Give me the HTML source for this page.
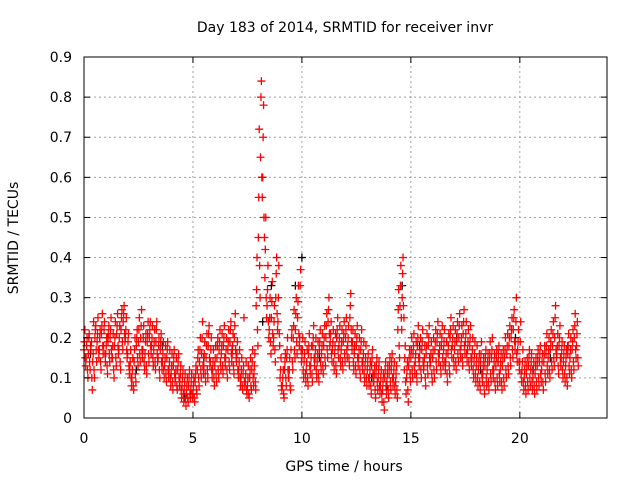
<!DOCTYPE html>
<html><head><meta charset="utf-8"><style>
body{margin:0;background:#fff}
svg{display:block;font-family:"DejaVu Sans","Liberation Sans",sans-serif}
</style></head><body>
<svg id="chart" width="640" height="480">
<rect width="640" height="480" fill="#fff"/>
<g id="grid"></g>
<g id="marks"></g>
<rect x="84" y="57" width="523" height="361" fill="none" stroke="#000" stroke-width="1"/>
<g id="ticks"></g>
<text x="345" y="32" text-anchor="middle" font-size="14">Day 183 of 2014, SRMTID for receiver invr</text>
<text x="344" y="471" text-anchor="middle" font-size="14">GPS time / hours</text>
<text transform="translate(18,238) rotate(-90)" text-anchor="middle" font-size="14">SRMTID / TECUs</text>
</svg>
<script>
const xTicks=[0,5,10,15,20];
const yTicks=[0,0.1,0.2,0.3,0.4,0.5,0.6,0.7,0.8,0.9];
const yTickLabels=["0","0.1","0.2","0.3","0.4","0.5","0.6","0.7","0.8","0.9"];
const timeStep=0.1;
const redMid=[.17,.15,.16,.18,.14,.2,.19,.17,.21,.18,
.16,.19,.2,.15,.18,.21,.17,.22,.24,.2,
.16,.12,.1,.14,.18,.19,.2,.17,.16,.19,
.2,.18,.17,.19,.15,.17,.14,.13,.15,.12,
.11,.13,.1,.12,.09,.08,.07,.06,.08,.07,
.06,.09,.12,.14,.16,.13,.15,.18,.14,.12,
.13,.15,.17,.16,.18,.15,.17,.19,.16,.2,
.14,.12,.1,.11,.09,.08,.1,.12,.11,.28,
.45,.65,.6,.35,.28,.22,.25,.2,.3,.24,
.1,.08,.12,.15,.1,.17,.2,.22,.25,.2,
.15,.14,.12,.16,.13,.18,.15,.14,.17,.16,
.18,.2,.24,.19,.17,.16,.2,.18,.17,.19,
.2,.18,.25,.17,.16,.18,.15,.17,.14,.13,
.12,.1,.13,.09,.11,.1,.08,.07,.1,.09,
.11,.12,.1,.09,.22,.28,.3,.12,.1,.13,
.15,.16,.14,.18,.15,.17,.13,.16,.18,.14,
.15,.17,.19,.16,.18,.17,.14,.16,.2,.18,
.17,.19,.2,.18,.21,.19,.17,.18,.15,.14,
.13,.12,.14,.11,.13,.12,.14,.15,.12,.13,
.14,.12,.13,.15,.16,.18,.2,.22,.19,.17,
.14,.12,.1,.11,.13,.12,.1,.11,.13,.14,
.12,.14,.16,.15,.17,.18,.2,.16,.18,.15,
.14,.13,.16,.15,.17,.2,.18];
const redHigh=[.22,.2,.21,.19,.24,.23,.25,.22,.26,.24,
.2,.23,.25,.21,.24,.26,.23,.27,.28,.25,
.21,.17,.15,.2,.22,.25,.27,.23,.21,.24,
.24,.23,.22,.24,.2,.21,.19,.18,.19,.17,
.16,.17,.15,.16,.13,.12,.11,.1,.12,.11,
.1,.13,.17,.2,.24,.19,.21,.23,.2,.17,
.18,.2,.22,.21,.23,.2,.22,.24,.21,.26,
.19,.17,.15,.25,.14,.13,.15,.17,.16,.4,
.72,.84,.78,.5,.38,.3,.34,.28,.4,.38,
.15,.12,.16,.2,.15,.22,.27,.3,.33,.37,
.2,.19,.17,.21,.18,.23,.2,.19,.22,.21,
.23,.26,.3,.24,.22,.21,.25,.23,.22,.24,
.25,.23,.31,.22,.21,.23,.2,.22,.19,.18,
.16,.14,.17,.13,.15,.14,.12,.11,.14,.13,
.15,.16,.14,.13,.32,.38,.4,.18,.14,.17,
.2,.21,.19,.23,.2,.22,.18,.21,.23,.19,
.2,.22,.24,.21,.23,.22,.19,.21,.25,.23,
.22,.24,.26,.23,.27,.24,.22,.23,.2,.19,
.18,.16,.19,.15,.17,.16,.19,.2,.16,.17,
.18,.16,.17,.2,.21,.23,.25,.27,.3,.22,
.24,.17,.14,.15,.17,.16,.14,.15,.17,.18,
.16,.18,.21,.2,.22,.24,.28,.21,.23,.19,
.18,.17,.21,.2,.22,.26,.24];
const redLow=[.13,.1,.12,.07,.1,.14,.15,.12,.16,.14,
.11,.14,.15,.1,.13,.16,.12,.17,.19,.15,
.11,.08,.07,.09,.13,.14,.15,.12,.11,.14,
.16,.13,.12,.14,.1,.12,.1,.09,.1,.08,
.07,.09,.07,.08,.05,.04,.03,.04,.05,.05,
.04,.06,.08,.1,.11,.09,.1,.13,.1,.08,
.09,.1,.12,.11,.13,.1,.12,.14,.11,.15,
.1,.08,.07,.08,.06,.05,.07,.08,.07,.18,
.3,.55,.45,.25,.2,.16,.18,.14,.22,.18,
.07,.05,.08,.1,.07,.12,.15,.16,.18,.14,
.1,.09,.08,.11,.09,.13,.1,.09,.12,.11,
.13,.15,.18,.14,.12,.11,.15,.13,.12,.14,
.15,.13,.19,.12,.11,.13,.1,.12,.09,.08,
.08,.06,.09,.05,.07,.06,.04,.02,.06,.05,
.07,.08,.06,.05,.15,.22,.25,.06,.04,.09,
.1,.11,.09,.13,.1,.12,.08,.11,.13,.09,
.1,.12,.14,.11,.13,.12,.09,.11,.15,.13,
.12,.14,.15,.13,.16,.14,.12,.13,.1,.09,
.08,.07,.09,.06,.08,.07,.09,.1,.07,.08,
.09,.07,.08,.1,.11,.13,.15,.17,.14,.12,
.09,.07,.06,.07,.08,.07,.06,.07,.08,.09,
.07,.09,.11,.1,.12,.13,.15,.11,.13,.1,
.09,.08,.11,.1,.12,.15,.13];
const redUpperMid=[.19,.18,.2,.17,.16,.22,.21,.2,.23,.22,
.18,.21,.22,.18,.2,.23,.2,.25,.26,.22,
.19,.14,.12,.17,.2,.22,.23,.2,.19,.21,
.22,.2,.19,.22,.18,.19,.16,.15,.17,.14,
.13,.15,.12,.14,.11,.1,.09,.08,.1,.09,
.08,.11,.15,.17,.2,.16,.18,.21,.17,.14,
.15,.18,.19,.18,.2,.17,.19,.22,.18,.23,
.16,.14,.12,.13,.11,.1,.12,.14,.13,.32,
.55,.8,.7,.42,.32,.25,.29,.24,.36,.3,
.12,.1,.14,.17,.12,.2,.23,.26,.29,.33,
.17,.16,.14,.18,.15,.2,.17,.16,.19,.18,
.2,.23,.27,.21,.19,.18,.22,.2,.19,.21,
.22,.2,.28,.19,.18,.2,.17,.19,.16,.15,
.14,.12,.15,.11,.13,.12,.1,.09,.12,.11,
.13,.14,.12,.11,.27,.33,.36,.15,.12,.15,
.17,.18,.16,.2,.17,.19,.15,.18,.2,.16,
.17,.19,.21,.18,.2,.19,.16,.18,.22,.2,
.19,.21,.23,.2,.24,.21,.19,.2,.17,.16,
.15,.14,.16,.13,.15,.14,.16,.17,.14,.15,
.16,.14,.15,.17,.18,.2,.22,.25,.24,.19,
.19,.14,.12,.13,.15,.14,.12,.13,.15,.16,
.14,.16,.18,.17,.19,.21,.25,.18,.2,.17,
.16,.15,.18,.17,.19,.23,.21];
const redLowerMid=[.15,.12,.14,.1,.12,.17,.17,.14,.18,.16,
.13,.16,.17,.12,.15,.18,.14,.19,.21,.17,
.13,.1,.08,.11,.15,.16,.17,.14,.13,.16,
.18,.15,.14,.16,.12,.14,.12,.11,.12,.1,
.09,.11,.08,.1,.07,.06,.05,.05,.06,.06,
.05,.07,.1,.12,.13,.11,.12,.15,.12,.1,
.11,.12,.14,.13,.15,.12,.14,.16,.13,.17,
.12,.1,.08,.09,.07,.06,.08,.1,.09,.22,
.38,.6,.5,.3,.24,.19,.21,.17,.26,.21,
.08,.06,.1,.12,.08,.14,.17,.19,.21,.17,
.12,.11,.1,.13,.11,.15,.12,.11,.14,.13,
.15,.17,.21,.16,.14,.13,.17,.15,.14,.16,
.17,.15,.22,.14,.13,.15,.12,.14,.11,.1,
.1,.08,.11,.07,.09,.08,.06,.04,.08,.07,
.09,.1,.08,.07,.18,.25,.28,.09,.07,.11,
.12,.13,.11,.15,.12,.14,.1,.13,.15,.11,
.12,.14,.16,.13,.15,.14,.11,.13,.17,.15,
.14,.16,.17,.15,.18,.16,.14,.15,.12,.11,
.1,.09,.11,.08,.1,.09,.11,.12,.09,.1,
.11,.09,.1,.12,.13,.15,.17,.19,.16,.14,
.11,.09,.08,.09,.1,.09,.08,.09,.1,.11,
.09,.11,.13,.12,.14,.15,.17,.13,.15,.12,
.11,.1,.13,.12,.14,.17,.15];
const blackTimes=[0.3,1.1,2.4,3.6,4.6,5.5,6.8,7.6,8.2,8.6,9.2,9.7,10.0,10.8,11.6,12.4,13.2,13.9,14.6,15.4,16.3,17.1,18.2,19.0,19.8,20.6,21.4,22.2];
const blackValues=[.16,.2,.12,.18,.05,.15,.17,.1,.24,.33,.12,.33,.4,.15,.2,.17,.1,.08,.33,.18,.16,.2,.12,.14,.2,.12,.15,.18];

const NS="http://www.w3.org/2000/svg";
const X0=84,X1=607,Y0=418,Y1=57,XMAX=24,YMAX=0.9;
function xs(v){return X0+(X1-X0)*v/XMAX;}
function ys(v){return Y0-(Y0-Y1)*v/YMAX;}
const grid=document.getElementById('grid'),ticks=document.getElementById('ticks'),marks=document.getElementById('marks');
function mk(tag,attrs,parent){const e=document.createElementNS(NS,tag);for(const k in attrs)e.setAttribute(k,attrs[k]);parent.appendChild(e);return e;}
xTicks.forEach(function(t){
  const x=xs(t);
  if(t>0){const g=mk('line',{x1:x,x2:x,y1:Y0,y2:Y1,stroke:'#a0a0a0','stroke-dasharray':'2,3'},grid);
  
  }
  const l=mk('line',{x1:x,x2:x,y1:Y0,y2:Y0-6,stroke:'#000'},ticks);
  
  
  const l2=mk('line',{x1:x,x2:x,y1:Y1,y2:Y1+6,stroke:'#000'},ticks);
  
  
  const tx=mk('text',{x:x,y:443,'text-anchor':'middle','font-size':'14'},ticks);tx.textContent=String(t);
  
  
});
yTicks.forEach(function(t,i){
  const y=ys(t);
  if(t>0&&t<YMAX){const g=mk('line',{x1:X0,x2:X1,y1:y,y2:y,stroke:'#a0a0a0','stroke-dasharray':'2,3'},grid);
  
  }
  const l=mk('line',{x1:X0,x2:X0+6,y1:y,y2:y,stroke:'#000'},ticks);
  
  
  const l2=mk('line',{x1:X1,x2:X1-6,y1:y,y2:y,stroke:'#000'},ticks);
  
  
  const tx=mk('text',{x:72,y:y+5,'text-anchor':'end','font-size':'14'},ticks);tx.textContent=yTickLabels[i];
  
  
});
function plus(t,v,color,name){
  const x=xs(t),y=ys(v);
  const p=mk('path',{d:'M'+(x-4)+' '+y+'h8M'+x+' '+(y-4)+'v8',stroke:color,'stroke-width':'1.3',fill:'none'},marks);
  
  
}
blackValues.forEach(function(v,i){plus(blackTimes[i],v,'#000','black-point');});
redMid.forEach(function(v,i){plus(i*timeStep,v,'#ff0000','red-point');});
redUpperMid.forEach(function(v,i){plus(i*timeStep+0.02,v,'#ff0000','red-point');});
redHigh.forEach(function(v,i){plus(i*timeStep+0.04,v,'#ff0000','red-point');});
redLowerMid.forEach(function(v,i){plus(i*timeStep+0.06,v,'#ff0000','red-point');});
redLow.forEach(function(v,i){plus(i*timeStep+0.08,v,'#ff0000','red-point');});
</script>
</body></html>
